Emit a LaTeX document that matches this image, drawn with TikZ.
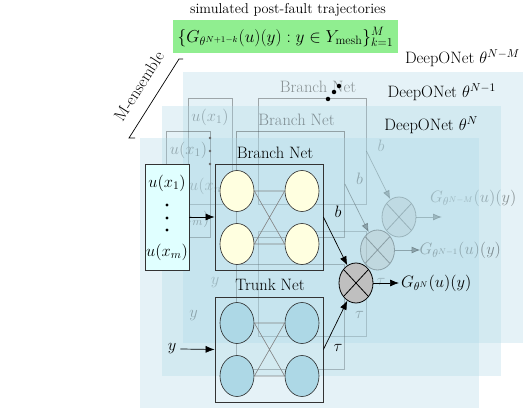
\RequirePackage{fix-cm}
\documentclass[tikz,border=0pt]{standalone}
\usepackage{fontspec}
\usetikzlibrary{shapes.geometric,arrows.meta,calc}
\definecolor{bgblue}{RGB}{173,216,230}
\definecolor{inpcyan}{RGB}{224,255,255}
\definecolor{neuronY}{RGB}{255,255,224}
\definecolor{neuronB}{RGB}{173,216,230}
\definecolor{greenbox}{RGB}{144,238,144}
\tikzset{
  every node/.style={font=\fontsize{16.5}{19}\selectfont, inner sep=1pt},
  netbox/.style={draw=black!80, line width=0.8pt, rectangle, inner sep=0pt},
  neuron/.style={ellipse, draw=black!85, line width=0.6pt, minimum width=34pt, minimum height=41pt, inner sep=0pt},
  multnode/.style={ellipse, draw=black, line width=0.8pt, fill=black!25, minimum width=34pt, minimum height=40pt, inner sep=0pt},
  conn/.style={draw=black!50, line width=0.6pt},
  arr/.style={-{Latex[length=9pt,width=7pt]}, line width=0.7pt},
  layer/.style={fill=bgblue, fill opacity=0.32, draw=none},
  dotmark/.style={circle, fill=black, inner sep=0pt, minimum size=3.4pt},
}
\newcommand\backnet[4]{%
  \node[netbox, minimum width=44pt, minimum height=106pt] (#1in) at (167,217) {};
  \node (#1ua) at (167,183) {$u(x_1)$};
  \node (#1ub) at (167,252) {$u(x_m)$};
  \node[netbox, minimum width=108pt, minimum height=106pt] (#1br) at (269,217) {};
  \node (#1brl) at (275,153) {Branch Net};
  \node[netbox, minimum width=108pt, minimum height=105pt] (#1tr) at (269,349.5) {};
  \node (#1yl) at (172,349) {$y$};
  \node (#1bl) at (338,212) {$b$};
  \node (#1tl) at (338,348) {$\tau$};
  \node[multnode] (#1mul) at (356,283) {};
  \draw[line width=0.8pt] ($(#1mul)+(-12,-13)$) -- ($(#1mul)+(12,13)$)
                          ($(#1mul)+(-12,13)$) -- ($(#1mul)+(12,-13)$);
  \draw[arr] (#1br.east) -- (#1mul);
  \coordinate (#1out) at (399,283);
  \draw[arr] (#1mul) -- (#1out);
  \node[anchor=#4] (#1G) at #3 {#2};
}
\begin{document}
\begin{tikzpicture}[x=1pt,y=-1pt]
\useasboundingbox (0,0) rectangle (523,409);

% back layer theta^{N-M}
\fill[layer] (183,72) rectangle (523,343);
\begin{scope}[shift={(43,-66)}, opacity=0.4]
  \backnet{A}{$G_{\theta^{N-M}}(u)(y)$}{(386,264)}{west}
\end{scope}
\node[anchor=east] (labA) at (521,58) {DeepONet $\theta^{N-M}$};

% middle layer theta^{N-1}
\fill[layer] (162,106) rectangle (501,376);
\begin{scope}[shift={(21.5,-33)}, opacity=0.4]
  \backnet{B}{$G_{\theta^{N-1}}(u)(y)$}{(397,283)}{west}
\end{scope}
\node[anchor=east] (labB) at (497,92) {DeepONet $\theta^{N-1}$};

% front layer theta^N
\fill[layer] (140,138) rectangle (479,408);
\node[anchor=east] (labC) at (479,125) {DeepONet $\theta^{N}$};

\node[netbox, fill=inpcyan, minimum width=44pt, minimum height=106pt] (in) at (167,217) {};
\node (ua) at (167,183) {$u(x_1)$};
\node (ub) at (167,252) {$u(x_m)$};
\node[dotmark] (d1) at (167,205) {};
\node[dotmark] (d2) at (167,218) {};
\node[dotmark] (d3) at (167,230) {};

\node[netbox, minimum width=108pt, minimum height=106pt] (br) at (269,217) {};
\node (brl) at (275,153) {Branch Net};
\node[neuron, fill=neuronY] (b1) at (237,191) {};
\node[neuron, fill=neuronY] (b2) at (302,191) {};
\node[neuron, fill=neuronY] (b3) at (237,244) {};
\node[neuron, fill=neuronY] (b4) at (302,244) {};
\draw[conn] (b1.east) -- (b2.west) (b3.east) -- (b4.west)
            (b1.east) -- (b4.west) (b3.east) -- (b2.west);

\node[netbox, minimum width=108pt, minimum height=105pt] (tr) at (269,349.5) {};
\node (trl) at (270,285) {Trunk Net};
\node[neuron, fill=neuronB] (t1) at (237,323) {};
\node[neuron, fill=neuronB] (t2) at (302,323) {};
\node[neuron, fill=neuronB] (t3) at (237,376) {};
\node[neuron, fill=neuronB] (t4) at (302,376) {};
\draw[conn] (t1.east) -- (t2.west) (t3.east) -- (t4.west)
            (t1.east) -- (t4.west) (t3.east) -- (t2.west);

\node (yl) at (172,349) {$y$};
\draw[arr] (in.east) -- (br.west);
\draw[arr] (yl.east) ++(3,0) coordinate (ys) -- (tr.west);

\node (bl) at (338,212) {$b$};
\node (tl) at (338,348) {$\tau$};
\node[multnode] (mul) at (356,283) {};
\draw[line width=0.8pt] ($(mul)+(-12,-13)$) -- ($(mul)+(12,13)$)
                        ($(mul)+(-12,13)$) -- ($(mul)+(12,-13)$);
\draw[arr] (br.east) -- (mul);
\draw[arr] (tr.east) -- (mul);
\coordinate (out) at (399,283);
\draw[arr] (mul) -- (out);
\node[anchor=west] (G) at (400,283) {$G_{\theta^{N}}(u)(y)$};

% dark dots of back copy and ensemble dots
\node[dotmark, fill=black!60, minimum size=2.8pt] (e1) at (210,138) {};
\node[dotmark, fill=black!60, minimum size=2.8pt] (e2) at (210,151) {};
\node[dotmark, fill=black!60, minimum size=2.8pt] (e3) at (210,164) {};
\node[dotmark, minimum size=4.5pt] (f1) at (328,99) {};
\node[dotmark, minimum size=4.5pt] (f2) at (334,92) {};
\node[dotmark, minimum size=4.5pt] (f3) at (339,86) {};

% top: title and formula
\node (title) at (288,10) {\fontsize{14.3}{17}\selectfont simulated post-fault trajectories};
\node[fill=greenbox, minimum width=225pt, minimum height=33pt, inner sep=0pt] (formula) at (285.5,37)
  {\fontsize{17.3}{20}\selectfont$\{G_{\theta^{N+1-k}}(u)(y) : y \in Y_{\mathrm{mesh}}\}_{k=1}^{M}$};

% M-ensemble bracket
\coordinate (ma) at (129,138);
\coordinate (mb) at (179,59);
\draw[line width=0.7pt] ($(ma)+(6,0)$) -- (ma) -- (mb) -- ($(mb)+(4,0)$);
\node[rotate=57.5] (mens) at (139,86) {M-ensemble};
\end{tikzpicture}
\end{document}
